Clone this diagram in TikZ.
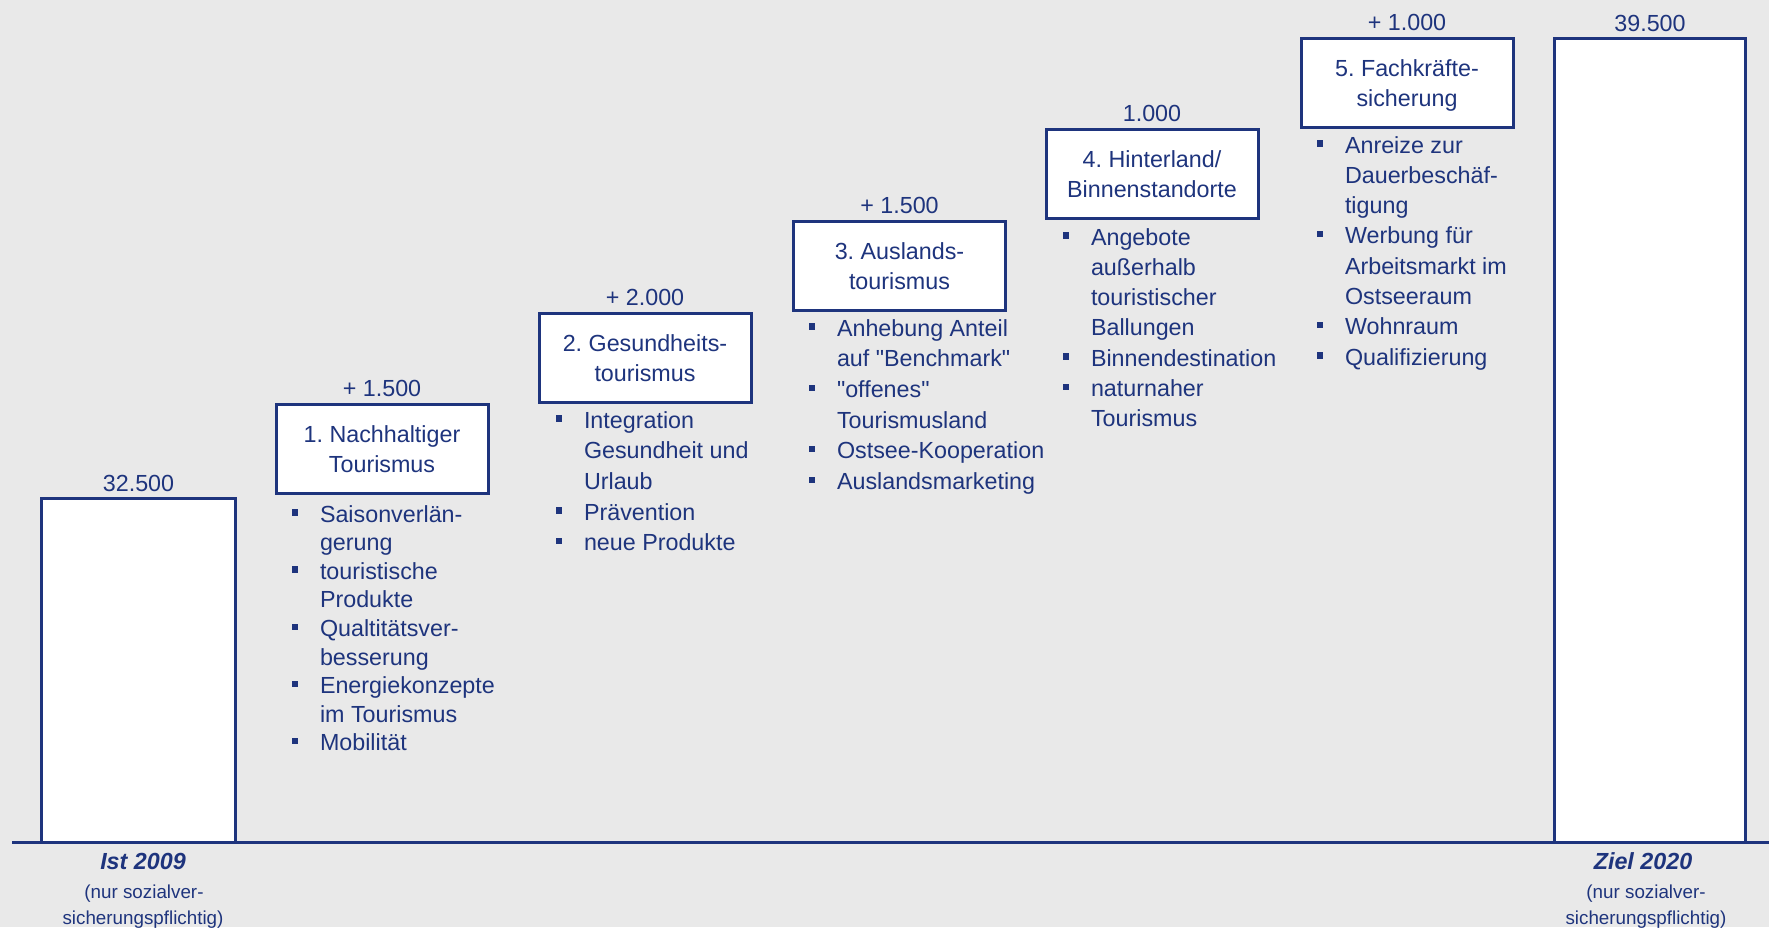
\documentclass[tikz,border=0pt]{standalone}
\usepackage{fontspec}
\setmainfont{Liberation Sans}
\newfontfamily\qfont{Liberation Sans}
\definecolor{navy}{RGB}{30,52,125}
\definecolor{bggray}{RGB}{233,233,233}
\newcommand\bul{\makebox[28pt][l]{\rule[6.5pt]{6.3pt}{6.3pt}}}
\newcommand\dq{{\qfont"}}
\begin{document}
\frenchspacing
\begin{tikzpicture}[x=1pt,y=-1pt,
  every node/.style={inner sep=0pt, outer sep=0pt, text=navy},
  stepbox/.style={draw=navy, line width=3pt, fill=white, minimum width=212pt,
    minimum height=89pt, align=center, font=\fontsize{23.3}{30}\selectfont},
  bar/.style={draw=navy, line width=3pt, fill=white, anchor=south},
  num/.style={anchor=base, font=\fontsize{23.3}{28}\selectfont},
  blist/.style={anchor=base west, font=\fontsize{23.3}{#1}\selectfont},
  yearcap/.style={anchor=base, font=\fontsize{23.3}{28}\selectfont\bfseries\itshape},
  smalltxt/.style={anchor=base, font=\fontsize{18.8}{26}\selectfont},
  axisline/.style={draw=navy, line width=3pt}]
\useasboundingbox (0,0) rectangle (1769,927);
\fill[bggray] (0,0) rectangle (1769,927);

% bars
\node[bar, minimum width=194pt, minimum height=343.5pt] (ist) at (138.5,842) {};
\node[bar, minimum width=191pt, minimum height=803.5pt] (ziel) at (1650,842) {};

% axis
\coordinate (axl) at (12,842);
\coordinate (axr) at (1769,842);
\draw[axisline] (axl) -- (axr);

% bar labels
\node[num] (istv) at ([yshift=7.5pt]ist.north) {32.500};
\node[num] (zielv) at ([yshift=7.5pt]ziel.north) {39.500};
\node[yearcap] (istc) at (143,869) {Ist 2009};
\node[smalltxt] (ist1) at (144,898) {(nur sozialver-};
\node[smalltxt] (ist2) at (143,924) {sicherungspflichtig)};
\node[yearcap] (zielc) at (1643,869) {Ziel 2020};
\node[smalltxt] (ziel1) at (1646,898) {(nur sozialver-};
\node[smalltxt] (ziel2) at (1646,924) {sicherungspflichtig)};

% step boxes
\node[stepbox] (b1) at (382,449) {1. Nachhaltiger\\Tourismus};
\node[stepbox] (b2) at (645,358) {2. Gesundheits-\\tourismus};
\node[stepbox] (b3) at (899.5,266) {3. Auslands-\\tourismus};
\node[stepbox] (b4) at (1152,174) {4. Hinterland/\\Binnenstandorte};
\node[stepbox] (b5) at (1407,83) {5. Fachkräfte-\\\smash{sicherung}};

\node[num] (v1) at ([yshift=8pt]b1.north) {+ 1.500};
\node[num] (v2) at ([yshift=8pt]b2.north) {+ 2.000};
\node[num] (v3) at ([yshift=8pt]b3.north) {+ 1.500};
\node[num] (v4) at ([yshift=8pt]b4.north) {1.000};
\node[num] (v5) at ([yshift=8pt]b5.north) {+ 1.000};

% bullet lists
\node[blist=28.6] (l1) at (292,522) {\begin{tabular}[t]{@{}l@{}l@{}}
\bul&Saisonverlän-\\&gerung\\
\bul&touristische\\&Produkte\\
\bul&Qualtitätsver-\\&besserung\\
\bul&Energiekonzepte\\&im Tourismus\\
\bul&Mobilität\end{tabular}};

\node[blist=30.7] (l2) at (556,428) {\begin{tabular}[t]{@{}l@{}l@{}}
\bul&Integration\\&Gesundheit und\\&Urlaub\\
\bul&Prävention\\
\bul&neue Produkte\end{tabular}};

\node[blist=30.7] (l3) at (809,336) {\begin{tabular}[t]{@{}l@{}l@{}}
\bul&Anhebung Anteil\\&auf \dq Benchmark\dq\\
\bul&\dq offenes\dq\\&Tourismusland\\
\bul&Ostsee-Kooperation\\
\bul&Auslandsmarketing\end{tabular}};

\node[blist=30.3] (l4) at (1063,245) {\begin{tabular}[t]{@{}l@{}l@{}}
\bul&Angebote\\&außerhalb\\&touristischer\\&Ballungen\\
\bul&Binnendestination\\
\bul&naturnaher\\&Tourismus\end{tabular}};

\node[blist=30.3] (l5) at (1317,153) {\begin{tabular}[t]{@{}l@{}l@{}}
\bul&Anreize zur\\&Dauerbeschäf-\\&tigung\\
\bul&Werbung für\\&Arbeitsmarkt im\\&Ostseeraum\\
\bul&Wohnraum\\
\bul&Qualifizierung\end{tabular}};
\end{tikzpicture}
\end{document}
